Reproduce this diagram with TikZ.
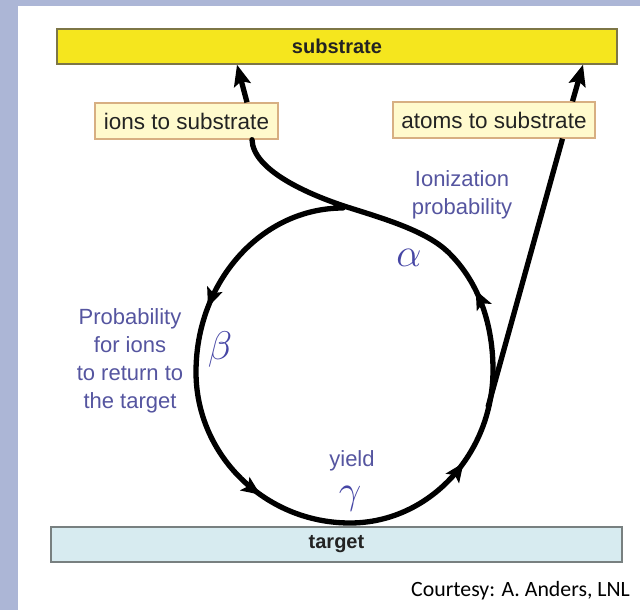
\RequirePackage{fix-cm}
\documentclass[tikz,border=0pt]{standalone}
\usepackage{fontspec}
\setmainfont{Liberation Sans}
\newfontfamily\courtesyfont{Carlito}
\usetikzlibrary{arrows.meta,decorations.markings}
\definecolor{framebg}{RGB}{172,182,214}
\definecolor{subyellow}{RGB}{245,230,30}
\definecolor{subborder}{RGB}{125,118,70}
\definecolor{lblfill}{RGB}{255,250,205}
\definecolor{lblborder}{RGB}{215,175,130}
\definecolor{targetfill}{RGB}{215,235,240}
\definecolor{targetborder}{RGB}{120,128,128}
\definecolor{bluetxt}{RGB}{85,85,160}
\definecolor{greektxt}{RGB}{70,70,165}
\definecolor{darktxt}{RGB}{35,35,35}
\tikzset{midarrow/.tip={Stealth[length=19pt,width=16pt,inset=4pt]},
         endarrow/.tip={Stealth[length=21pt,width=17pt,inset=4pt]}}
\begin{document}
\begin{tikzpicture}[x=1pt,y=-1pt,
  barbox/.style={draw, line width=1.4pt, inner sep=0pt, text=darktxt,
    font=\fontsize{20}{24}\selectfont\bfseries},
  labelbox/.style={draw=lblborder, fill=lblfill, line width=1.3pt, inner sep=0pt,
    text=darktxt, font=\fontsize{22.5}{26}\selectfont},
  flow/.style={line width=5.3pt, black},
  bigtip/.style={-endarrow},
  bluelabel/.style={text=bluetxt, inner sep=0pt, align=center,
    font=\fontsize{22}{28}\selectfont},
  greeklabel/.style={text=greektxt, inner sep=0pt,
    font=\fontsize{40}{40}\selectfont},
]
\useasboundingbox (0,0) rectangle (640,610);
\fill[white] (0,0) rectangle (640,610);
\fill[framebg] (0,0) rectangle (18,610);
\fill[framebg] (0,0) rectangle (640,6);

% boxes
\node[barbox, fill=subyellow, draw=subborder, minimum width=560pt, minimum height=35pt]
  (substrate) at (337,46.5) {substrate};
\node[barbox, fill=targetfill, draw=targetborder, minimum width=571pt, minimum height=35pt]
  (target) at (336.5,544.5) {target};
\node[labelbox, minimum width=183pt, minimum height=36pt] (ions) at (186.5,121) {ions to substrate};
\node[labelbox, minimum width=202pt, minimum height=36pt] (atoms) at (494,120) {atoms to substrate};

% labels
\node[bluelabel] (ionprob) at (462,195) {Ionization\\probability};
\node[bluelabel] (retprob) at (130,360.5) {Probability\\for ions\\to return to\\the target};
\node[bluelabel] (yield) at (352,461) {yield};
\node[greeklabel] (alpha) at (409,258) {$\alpha$};
\node[greeklabel] (beta) at (220,349) {$\beta$};
\node[greeklabel] (gamma) at (350,499) {$\gamma$};

% loop
\coordinate (J) at (343,208);
\coordinate (ionsout) at ([xshift=65.5pt]ions.south);
\draw[flow, line cap=round, postaction={decorate}, decoration={markings,
    mark=at position 0.165 with {\arrow{midarrow}},
    mark=at position 0.36 with {\arrow{midarrow}},
    mark=at position 0.572 with {\arrow{midarrow}},
    mark=at position 0.74 with {\arrow{midarrow}}}]
  (J) .. controls (262,208) and (196,281) .. (196,372)
      .. controls (196,455) and (265,523) .. (350,523)
      .. controls (429,523) and (493,454) .. (493,370)
      .. controls (493,328) and (481,284) .. (448,252)
      .. controls (426,231) and (385,219) .. (347,207)
      .. controls (307,194) and (253,170) .. (ionsout);

% ions to substrate
\draw[flow, bigtip] ([xshift=60.5pt]ions.north) -- ([xshift=-100pt]substrate.south);

% atoms line
\coordinate (T) at (488,407);
\draw[flow] (T) -- ([xshift=68.5pt]atoms.south);
\draw[flow, bigtip] ([xshift=78.5pt]atoms.north) -- ([xshift=246pt]substrate.south);

% courtesy
\node[anchor=base east, inner sep=0pt, text=black, font=\courtesyfont\fontsize{21.8}{24}\selectfont]
  (courtesy) at (630,596) {Courtesy: A. Anders, LNL};
\end{tikzpicture}
\end{document}
